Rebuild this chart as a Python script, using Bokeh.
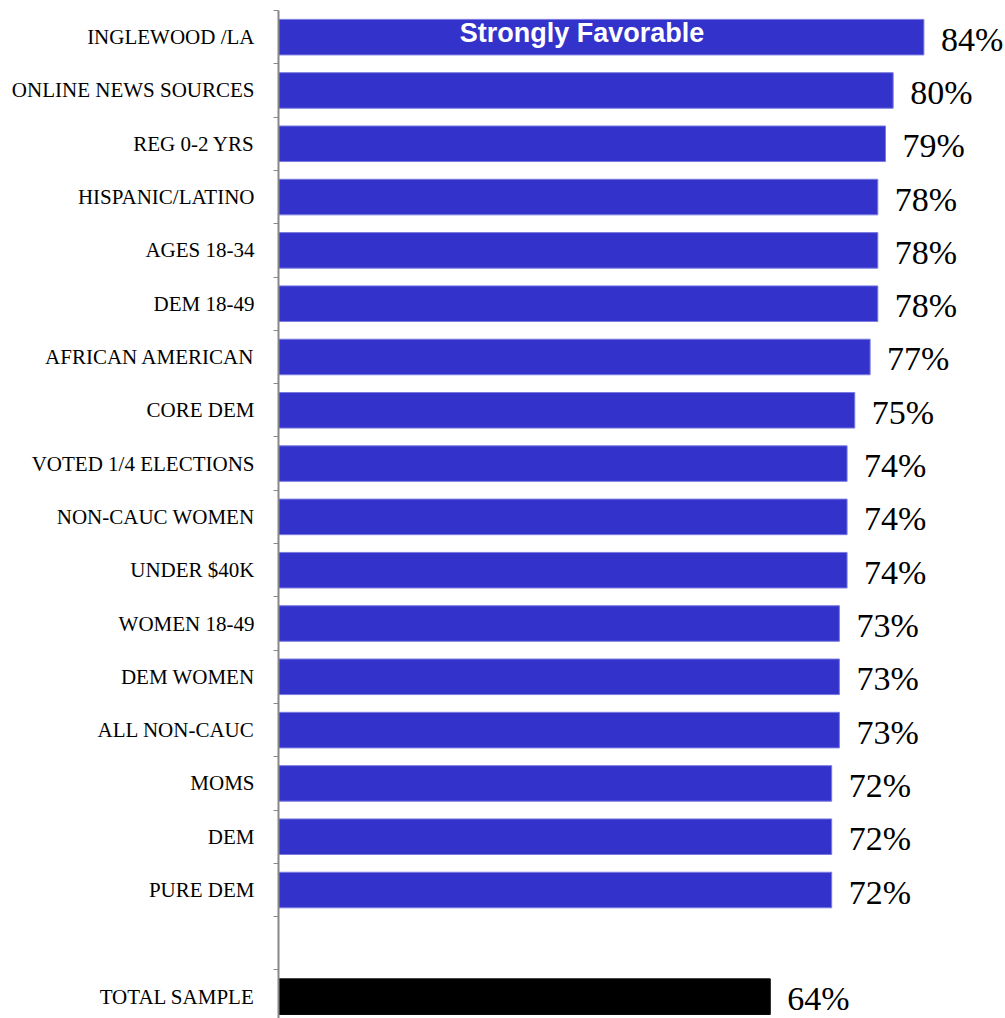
from bokeh.plotting import figure
from bokeh.models import ColumnDataSource, FixedTicker, CustomJSTickFormatter, Range1d, Label, LabelSet
from bokeh.core.properties import value
from bokeh.embed import file_html
from bokeh.resources import INLINE

categories = ["INGLEWOOD /LA", "ONLINE NEWS SOURCES", "REG 0-2 YRS", "HISPANIC/LATINO",
              "AGES 18-34", "DEM 18-49", "AFRICAN AMERICAN", "CORE DEM",
              "VOTED 1/4 ELECTIONS", "NON-CAUC WOMEN", "UNDER $40K", "WOMEN 18-49",
              "DEM WOMEN", "ALL NON-CAUC", "MOMS", "DEM", "PURE DEM", "", "TOTAL SAMPLE"]
values = [84, 80, 79, 78, 78, 78, 77, 75, 74, 74, 74, 73, 73, 73, 72, 72, 72, None, 64]
series_title = "Strongly Favorable"

BLUE = "#3333CC"
rows = [i for i, v in enumerate(values) if v is not None]
src = ColumnDataSource(dict(
    y=rows,
    v=[values[i] for i in rows],
    lbl=[f"{values[i]}%" for i in rows],
    fill=[("#000000" if categories[i] == "TOTAL SAMPLE" else BLUE) for i in rows],
    edge=[("#000000" if categories[i] == "TOTAL SAMPLE" else "#7A7AE0") for i in rows],
))

n = len(categories)
p = figure(width=1005, height=1018, output_backend="svg", toolbar_location=None,
           x_range=Range1d(0, 94.62), y_range=Range1d(18.41, -0.5),
           min_border_left=278, min_border_right=0, min_border_top=10, min_border_bottom=0,
           x_axis_location=None)
p.outline_line_color = None
p.grid.visible = False
p.background_fill_color = "white"

p.hbar(y="y", left=0, right="v", height=0.667, source=src,
       fill_color="fill", line_color="edge", line_width=1)

p.add_layout(LabelSet(x="v", y="y", text="lbl", source=src, x_offset=17, y_offset=-2,
                      text_font=value("Liberation Serif"), text_font_size=value("34px"),
                      text_baseline=value("middle"), text_align=value("left"),
                      text_color=value("black")))

p.add_layout(Label(x=39.5, y=0, text=series_title, text_font="Liberation Sans",
                   text_font_style="bold", text_font_size="27px", text_color="white",
                   text_align="center", text_baseline="middle", y_offset=4.5))

ax = p.yaxis[0]
ax.ticker = FixedTicker(ticks=list(range(n)), minor_ticks=[i - 0.5 for i in range(n + 1)])
ax.formatter = CustomJSTickFormatter(args=dict(labels=categories),
                                     code="const i = Math.round(tick); return (i >= 0 && i < labels.length) ? labels[i] : '';")
ax.major_tick_out = 0
ax.major_tick_in = 0
ax.minor_tick_out = 5
ax.minor_tick_in = 0
ax.minor_tick_line_color = "#888888"
ax.axis_line_color = "#888888"
ax.axis_line_width = 2
ax.major_label_standoff = 19
ax.major_label_text_font = "Liberation Serif"
ax.major_label_text_font_size = "21px"
ax.major_label_text_color = "black"

open("out.html", "w").write(file_html(p, INLINE))
